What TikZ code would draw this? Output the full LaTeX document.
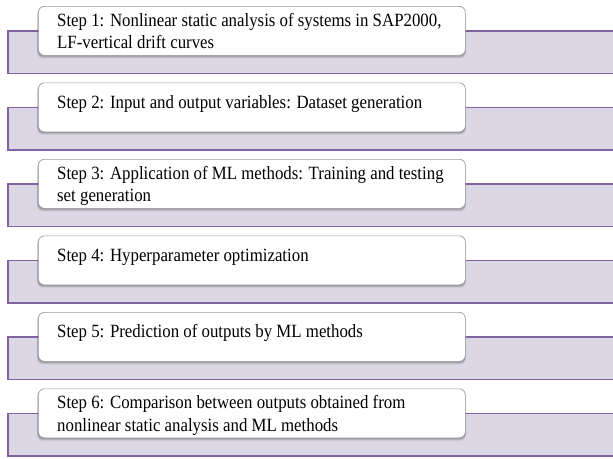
\documentclass[tikz,border=0pt]{standalone}
\usepackage{fontspec}
\setmainfont{Liberation Serif}[FakeStretch=0.9]
\definecolor{bandline}{HTML}{8064A2}
\definecolor{bandfill}{HTML}{DCD7E5}
\definecolor{boxline}{HTML}{9A9A9A}
\tikzset{
  bandfill/.style={fill=bandfill},
  bandedge/.style={draw=bandline, line width=1.1pt},
  stepbox/.style={draw=boxline, line width=0.7pt, fill=white, rounded corners=6pt,
    minimum width=427pt, minimum height=49pt, anchor=north west, inner sep=0pt},
  boxshade/.style={fill=black, rounded corners=6pt},
  steptext/.style={anchor=base west, inner sep=0pt, xshift=19pt,
    font=\fontsize{18.7}{22}\selectfont},
  lineone/.style={steptext, yshift=-20pt},
  linetwo/.style={steptext, yshift=-42.5pt},
  lineonly/.style={steptext, yshift=-25.5pt}
}
\begin{document}
\begin{tikzpicture}[x=1pt,y=-1pt]
\useasboundingbox (0,0) rectangle (613,458);
% one band and one rounded step box per row, 76.5pt apart
\foreach \k in {0,...,5}{
  \pgfmathsetmacro{\bt}{6+76.5*\k}
  \pgfmathsetmacro{\rt}{31+76.5*\k}
  \pgfmathsetmacro{\rb}{73.5+76.5*\k}
  \fill[bandfill] (8,\rt) rectangle (620,\rb);
  \draw[bandedge] (620,\rt) -- (8,\rt) -- (8,\rb) -- (620,\rb);
  % soft shadow under the step box
  \foreach \s/\o in {3.5/0.05,2.8/0.07,2.1/0.09,1.4/0.11}{
    \fill[boxshade, opacity=\o] (38-0.3*\s,\bt+\s) rectangle (465+0.3*\s,\bt+49+\s);
  }
  \node[stepbox] (box\k) at (38,\bt) {};
}
\node[lineone] (t1a) at (box0.north west) {Step 1: Nonlinear static analysis of systems in SAP2000,};
\node[linetwo] (t1b) at (box0.north west) {LF-vertical drift curves};
\node[lineonly] (t2) at (box1.north west) {Step 2: Input and output variables: Dataset generation};
\node[lineone] (t3a) at (box2.north west) {Step 3: Application of ML methods: Training and testing};
\node[linetwo] (t3b) at (box2.north west) {set generation};
\node[lineonly] (t4) at (box3.north west) {Step 4: Hyperparameter optimization};
\node[lineonly] (t5) at (box4.north west) {Step 5: Prediction of outputs by ML methods};
\node[lineone] (t6a) at (box5.north west) {Step 6: Comparison between outputs obtained from};
\node[linetwo] (t6b) at (box5.north west) {nonlinear static analysis and ML methods};
\end{tikzpicture}
\end{document}
